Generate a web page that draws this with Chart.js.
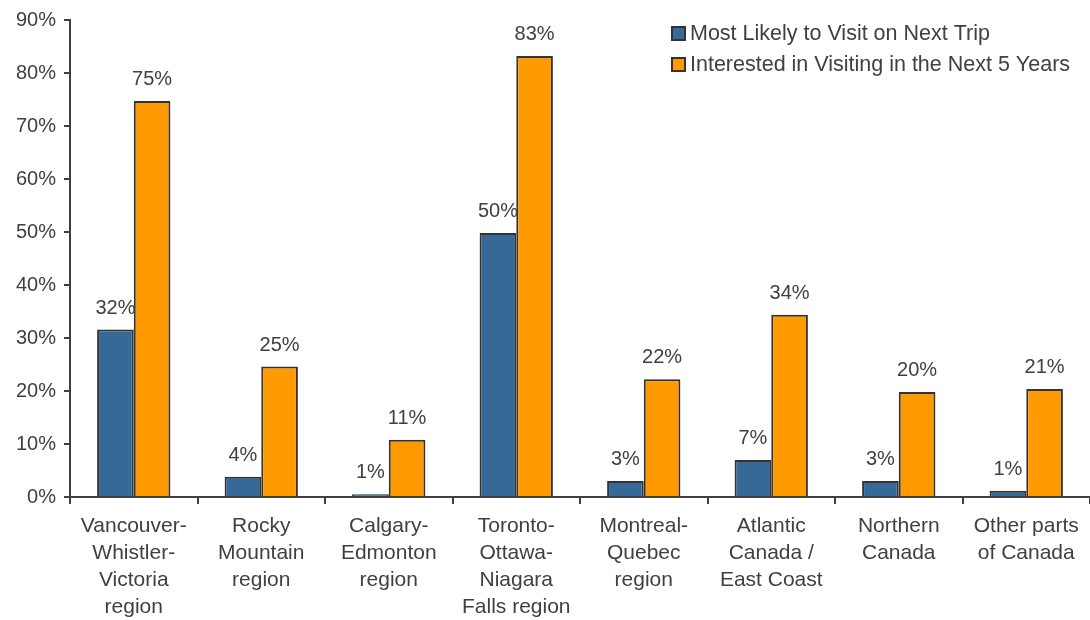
<!DOCTYPE html>
<html>
<head>
<meta charset="utf-8">
<script src="https://cdn.jsdelivr.net/npm/chart.js@4"></script>
<style>
  html, body { margin: 0; padding: 0; background: #fff; }
  #wrap { width: 1090px; height: 620px; }
</style>
</head>
<body>
<div id="wrap"><canvas id="chart" width="1090" height="620"></canvas></div>
<script>
// ── chart data ──
var categories = [
    ['Vancouver-', 'Whistler-', 'Victoria', 'region'],
    ['Rocky', 'Mountain', 'region'],
    ['Calgary-', 'Edmonton', 'region'],
    ['Toronto-', 'Ottawa-', 'Niagara', 'Falls region'],
    ['Montreal-', 'Quebec', 'region'],
    ['Atlantic', 'Canada /', 'East Coast'],
    ['Northern', 'Canada'],
    ['Other parts', 'of Canada']
];
var seriesNames = ['Most Likely to Visit on Next Trip', 'Interested in Visiting in the Next 5 Years'];
var nextTrip = [31.6, 3.8, 0.5, 49.8, 3.0, 7.0, 3.0, 1.2];
var next5Years = [74.7, 24.6, 10.8, 83.2, 22.2, 34.4, 19.8, 20.4];
var nextTripLabels = ['32%', '4%', '1%', '50%', '3%', '7%', '3%', '1%'];
var next5YearsLabels = ['75%', '25%', '11%', '83%', '22%', '34%', '20%', '21%'];

var TEXT = '#404040';
var FONT = '"Liberation Sans", Arial, sans-serif';

// value labels above each bar
var barLabels = {
    id: 'barLabels',
    afterDatasetsDraw: function (chart) {
        var ctx = chart.ctx;
        ctx.save();
        ctx.fillStyle = TEXT;
        ctx.font = '20px ' + FONT;
        ctx.textAlign = 'center';
        ctx.textBaseline = 'alphabetic';
        chart.data.datasets.forEach(function (ds, i) {
            chart.getDatasetMeta(i).data.forEach(function (bar, j) {
                ctx.fillText(ds.valueLabels[j], bar.x, bar.y - 16);
            });
        });
        ctx.restore();
    }
};

// legend in the top right corner, Excel style
var cornerLegend = {
    id: 'cornerLegend',
    afterDraw: function (chart) {
        var ctx = chart.ctx;
        ctx.save();
        ctx.font = '21.5px ' + FONT;
        ctx.textBaseline = 'middle';
        chart.data.datasets.forEach(function (ds, i) {
            var y = 33 + i * 31;
            ctx.fillStyle = ds.backgroundColor;
            ctx.fillRect(672, y - 6, 13, 13);
            ctx.strokeStyle = '#333';
            ctx.lineWidth = 2;
            ctx.strokeRect(672, y - 6, 13, 13);
            ctx.fillStyle = TEXT;
            ctx.fillText(ds.label, 690, y + 1);
        });
        ctx.restore();
    }
};

new Chart(document.getElementById('chart'), {
    type: 'bar',
    data: {
        labels: categories,
        datasets: [{
            label: seriesNames[0],
            data: nextTrip,
            valueLabels: nextTripLabels,
            backgroundColor: '#366898',
            borderColor: '#333333',
            borderWidth: 2,
            borderSkipped: 'bottom'
        }, {
            label: seriesNames[1],
            data: next5Years,
            valueLabels: next5YearsLabels,
            backgroundColor: '#FF9A00',
            borderColor: '#333333',
            borderWidth: 2,
            borderSkipped: 'bottom'
        }]
    },
    options: {
        responsive: false,
        animation: false,
        layout: { padding: { top: 20, right: 0, left: 0, bottom: 0 } },
        datasets: { bar: { categoryPercentage: 0.575, barPercentage: 1 } },
        plugins: {
            legend: { display: false },
            tooltip: { enabled: false }
        },
        scales: {
            x: {
                offset: true,
                grid: { offset: true, drawOnChartArea: false, drawTicks: true, tickLength: 7, color: TEXT, lineWidth: 2 },
                border: { display: true, color: TEXT, width: 2 },
                ticks: { color: TEXT, font: { family: FONT, size: 21, lineHeight: 1.28 }, padding: 9, maxRotation: 0, autoSkip: false },
                afterFit: function (scale) { scale.height = 123; }
            },
            y: {
                min: 0,
                max: 90,
                grid: { drawOnChartArea: false, drawTicks: true, tickLength: 6, color: TEXT, lineWidth: 2 },
                border: { display: true, color: TEXT, width: 2 },
                ticks: {
                    stepSize: 10,
                    color: TEXT,
                    font: { family: FONT, size: 20 },
                    padding: 8,
                    callback: function (v) { return v + '%'; }
                },
                afterFit: function (scale) { scale.width = 70; }
            }
        }
    },
    plugins: [barLabels, cornerLegend]
});
</script>
</body>
</html>
